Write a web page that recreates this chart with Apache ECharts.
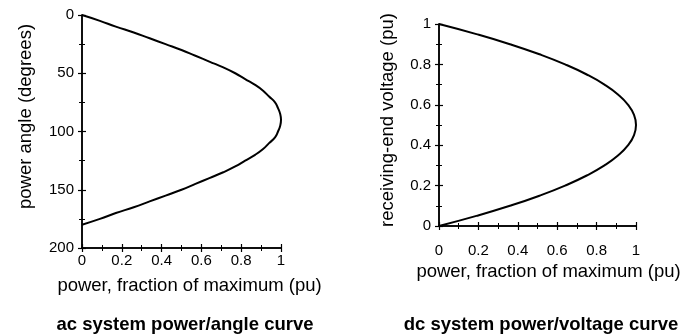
<!DOCTYPE html>
<html>
<head>
<meta charset="utf-8">
<script src="https://cdn.jsdelivr.net/npm/echarts@6/dist/echarts.min.js"></script>
<style>
  html, body { margin: 0; padding: 0; background: #fff; }
  #main { width: 696px; height: 335px; }
</style>
</head>
<body>
<div id="main"></div>
<script>
// ac system: power angle (degrees) vs power (pu)
var acAngle = [0, 5, 10, 15, 20, 25, 30, 35, 40, 45, 50, 55, 60, 65, 70, 75, 80, 85, 90,
               95, 100, 105, 110, 115, 120, 125, 130, 135, 140, 145, 150, 155, 160, 165, 170, 175, 180];
var acPower = [0, 0.09, 0.17, 0.26, 0.34, 0.42, 0.5, 0.57, 0.64, 0.71, 0.77, 0.82, 0.87, 0.91, 0.94, 0.97, 0.985, 0.996, 1,
               0.996, 0.985, 0.97, 0.94, 0.91, 0.87, 0.82, 0.77, 0.71, 0.64, 0.57, 0.5, 0.42, 0.34, 0.26, 0.17, 0.09, 0];

// dc system: receiving-end voltage (pu) vs power (pu)
var dcVoltage = [0, 0.05, 0.1, 0.15, 0.2, 0.25, 0.3, 0.35, 0.4, 0.45, 0.5, 0.55, 0.6, 0.65, 0.7, 0.75, 0.8, 0.85, 0.9, 0.95, 1];
var dcPower = [0, 0.19, 0.36, 0.51, 0.64, 0.75, 0.84, 0.91, 0.96, 0.99, 1, 0.99, 0.96, 0.91, 0.84, 0.75, 0.64, 0.51, 0.36, 0.19, 0];

var xTitle = 'power, fraction of maximum (pu)';

var acData = acAngle.map(function (a, i) { return [acPower[i], a]; });
var dcData = dcVoltage.map(function (v, i) { return [dcPower[i], v]; });

var font = 'Liberation Sans, Arial, sans-serif';
var black = '#000';

function axisBase(inside) {
  return {
    axisLine: { show: true, onZero: false, lineStyle: { color: black, width: 1.5 } },
    axisTick: { show: true, inside: !!inside, length: 4, lineStyle: { color: black, width: 1.2 } },
    minorTick: { show: true, splitNumber: 2, length: 3, lineStyle: { color: black, width: 1 } },
    splitLine: { show: false },
    axisLabel: { show: !inside, color: black, fontSize: 15, fontFamily: font },
    nameTextStyle: { color: black, fontSize: 18.5, fontFamily: font }
  };
}

// second copy of every axis draws the inner half of the crossing ticks
function ghost(base) {
  return Object.assign(axisBase(true), base);
}

var chart = echarts.init(document.getElementById('main'));
chart.setOption({
  backgroundColor: '#fff',
  animation: false,
  title: [
    { text: 'ac system power/angle curve', left: 180, top: 310, textAlign: 'center',
      textStyle: { fontSize: 18.5, fontWeight: 'bold', color: black, fontFamily: font } },
    { text: 'dc system power/voltage curve', left: 536, top: 310, textAlign: 'center',
      textStyle: { fontSize: 18.5, fontWeight: 'bold', color: black, fontFamily: font } }
  ],
  grid: [
    { left: 82, top: 15, width: 199, height: 233 },
    { left: 439, top: 24, width: 197, height: 202 }
  ],
  xAxis: [
    Object.assign(axisBase(), {
      gridIndex: 0, type: 'value', position: 'bottom', min: 0, max: 1, interval: 0.2,
      name: xTitle, nameLocation: 'middle', nameGap: 28
    }),
    Object.assign(axisBase(), {
      gridIndex: 1, type: 'value', position: 'bottom', min: 0, max: 1, interval: 0.2,
      name: xTitle, nameLocation: 'middle', nameGap: 36
    }),
    ghost({ gridIndex: 0, type: 'value', position: 'bottom', min: 0, max: 1, interval: 0.2 }),
    ghost({ gridIndex: 1, type: 'value', position: 'bottom', min: 0, max: 1, interval: 0.2 })
  ],
  yAxis: [
    Object.assign(axisBase(), {
      gridIndex: 0, type: 'value', position: 'left', min: 0, max: 200, interval: 50, inverse: true,
      name: 'power angle (degrees)', nameLocation: 'middle', nameGap: 47
    }),
    Object.assign(axisBase(), {
      gridIndex: 1, type: 'value', position: 'left', min: 0, max: 1, interval: 0.2,
      name: 'receiving-end voltage (pu)', nameLocation: 'middle', nameGap: 42
    }),
    ghost({ gridIndex: 0, type: 'value', position: 'left', min: 0, max: 200, interval: 50, inverse: true }),
    ghost({ gridIndex: 1, type: 'value', position: 'left', min: 0, max: 1, interval: 0.2 })
  ],
  series: [
    { type: 'line', xAxisIndex: 0, yAxisIndex: 0, data: acData, smooth: true,
      showSymbol: false, lineStyle: { color: black, width: 2 } },
    { type: 'line', xAxisIndex: 1, yAxisIndex: 1, data: dcData, smooth: true,
      showSymbol: false, lineStyle: { color: black, width: 2 } }
  ]
});
// per-axis label margins and name nudges
chart.setOption({
  xAxis: [
    { axisLabel: { margin: 5 }, nameTextStyle: { padding: [0, 0, 0, 16] } },
    { axisLabel: { margin: 17 }, nameTextStyle: { padding: [0, 0, 0, 22] } }
  ],
  yAxis: [
    { axisLabel: { margin: 8 }, nameTextStyle: { padding: [0, 0, 0, 30] } },
    { axisLabel: { margin: 8 }, nameTextStyle: { padding: [0, 0, 0, 10] } }
  ]
});
</script>
</body>
</html>
